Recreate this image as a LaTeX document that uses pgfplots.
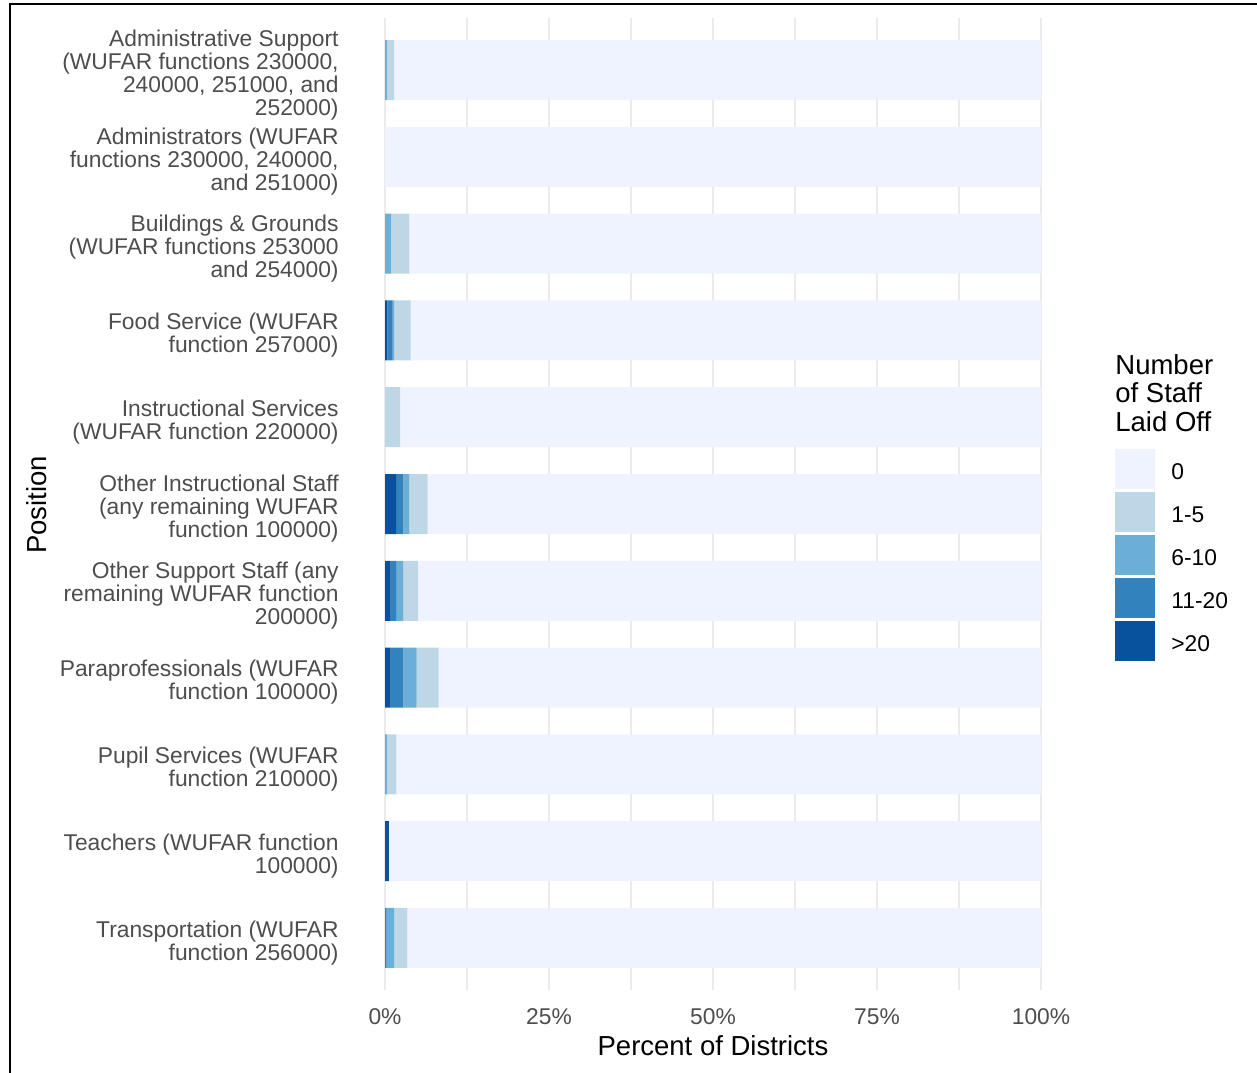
\documentclass[border=0pt]{standalone}
\usepackage{pgfplots}
\pgfplotsset{compat=1.18}
\usepackage{fontspec}
\setmainfont{Liberation Sans}
\definecolor{cA}{HTML}{EFF3FF}
\definecolor{cB}{HTML}{BDD7E7}
\definecolor{cC}{HTML}{6BAED6}
\definecolor{cD}{HTML}{3182BD}
\definecolor{cE}{HTML}{08519C}
\definecolor{tickgray}{HTML}{4D4D4D}
\definecolor{gridgray}{HTML}{EBEBEB}
\begin{document}
\begin{tikzpicture}[x=1pt,y=1pt]
\useasboundingbox (0,0) rectangle (628.5,-536);
\draw[line width=1pt] (5,-2.1) rectangle (660,-560);
\begin{axis}[
  at={(192.5pt,-495pt)}, anchor=south west,
  scale only axis, width=328pt, height=486pt,
  xbar stacked, bar width=30pt,
  xmin=0, xmax=100, ymin=0.4, ymax=11.6, y dir=reverse,
  ytick={1,2,3,4,5,6,7,8,9,10,11},
  yticklabels={
    {Administrative Support\\(WUFAR functions 230000,\\240000, 251000, and\\252000)},
    {Administrators (WUFAR\\functions 230000, 240000,\\and 251000)},
    {Buildings \& Grounds\\(WUFAR functions 253000\\and 254000)},
    {Food Service (WUFAR\\function 257000)},
    {Instructional Services\\(WUFAR function 220000)},
    {Other Instructional Staff\\(any remaining WUFAR\\function 100000)},
    {Other Support Staff (any\\remaining WUFAR function\\200000)},
    {Paraprofessionals (WUFAR\\function 100000)},
    {Pupil Services (WUFAR\\function 210000)},
    {Teachers (WUFAR function\\100000)},
    {Transportation (WUFAR\\function 256000)}},
  yticklabel style={align=right, anchor=east, inner sep=0pt, xshift=-23pt, yshift=-2.5pt,
    font=\fontsize{11.4}{11.5}\selectfont, text=tickgray},
  xtick={0,25,50,75,100},
  xticklabels={0\%,25\%,50\%,75\%,100\%},
  minor xtick={12.5,37.5,62.5,87.5},
  xticklabel style={anchor=center, inner sep=0pt, yshift=-13.5pt,
    font=\fontsize{11.4}{11.5}\selectfont, text=tickgray},
  xmajorgrids, xminorgrids,
  major grid style={gridgray, line width=0.7pt},
  minor grid style={gridgray, line width=0.7pt},
  axis line style={draw=none},
  major tick style={draw=none}, minor tick style={draw=none},
  xlabel={Percent of Districts},
  xlabel style={at={(axis description cs:0.5,0)}, anchor=center, yshift=-28pt,
    font=\fontsize{13.75}{15}\selectfont},
  reverse legend,
  legend style={at={(1.1128,0.5566)}, anchor=north west, draw=none, fill=none,
    inner sep=0pt, row sep=1.5pt, column sep=8pt,
    nodes={inner sep=0pt, anchor=west},
    font=\fontsize{11.4}{11.5}\selectfont},
  legend cell align=left,
  legend image code/.code={\fill[#1] (0pt,-8pt) rectangle (20pt,12pt);},
]
\addplot[fill=cE, draw=none] coordinates {(0,1) (0,2) (0,3) (0.35,4) (0,5) (1.68,6) (0.86,7) (0.86,8) (0,9) (0.6,10) (0,11)};
\addplot[fill=cD, draw=none] coordinates {(0,1) (0,2) (0,3) (0.8,4) (0,5) (1.12,6) (0.91,7) (1.93,8) (0,9) (0,10) (0.25,11)};
\addplot[fill=cC, draw=none] coordinates {(0.3,1) (0,2) (0.9,3) (0.25,4) (0,5) (0.91,6) (1.0,7) (2.03,8) (0.3,9) (0,10) (1.17,11)};
\addplot[fill=cB, draw=none] coordinates {(1.1,1) (0,2) (2.8,3) (2.5,4) (2.3,5) (2.8,6) (2.28,7) (3.35,8) (1.42,9) (0,10) (1.98,11)};
\addplot[fill=cA, draw=none] coordinates {(98.6,1) (100,2) (96.3,3) (96.1,4) (97.7,5) (93.49,6) (94.95,7) (91.83,8) (98.28,9) (99.4,10) (96.6,11)};
\legend{>20,11-20,6-10,1-5,0}
\end{axis}
\node[anchor=north west, inner sep=0pt, align=left, font=\fontsize{13.75}{14.25}\selectfont] at (557.5,-177) {Number\\of Staff\\Laid Off};
\node[rotate=90, font=\fontsize{13.75}{15}\selectfont] at (18.5,-252.5) {Position};
\end{tikzpicture}
\end{document}
